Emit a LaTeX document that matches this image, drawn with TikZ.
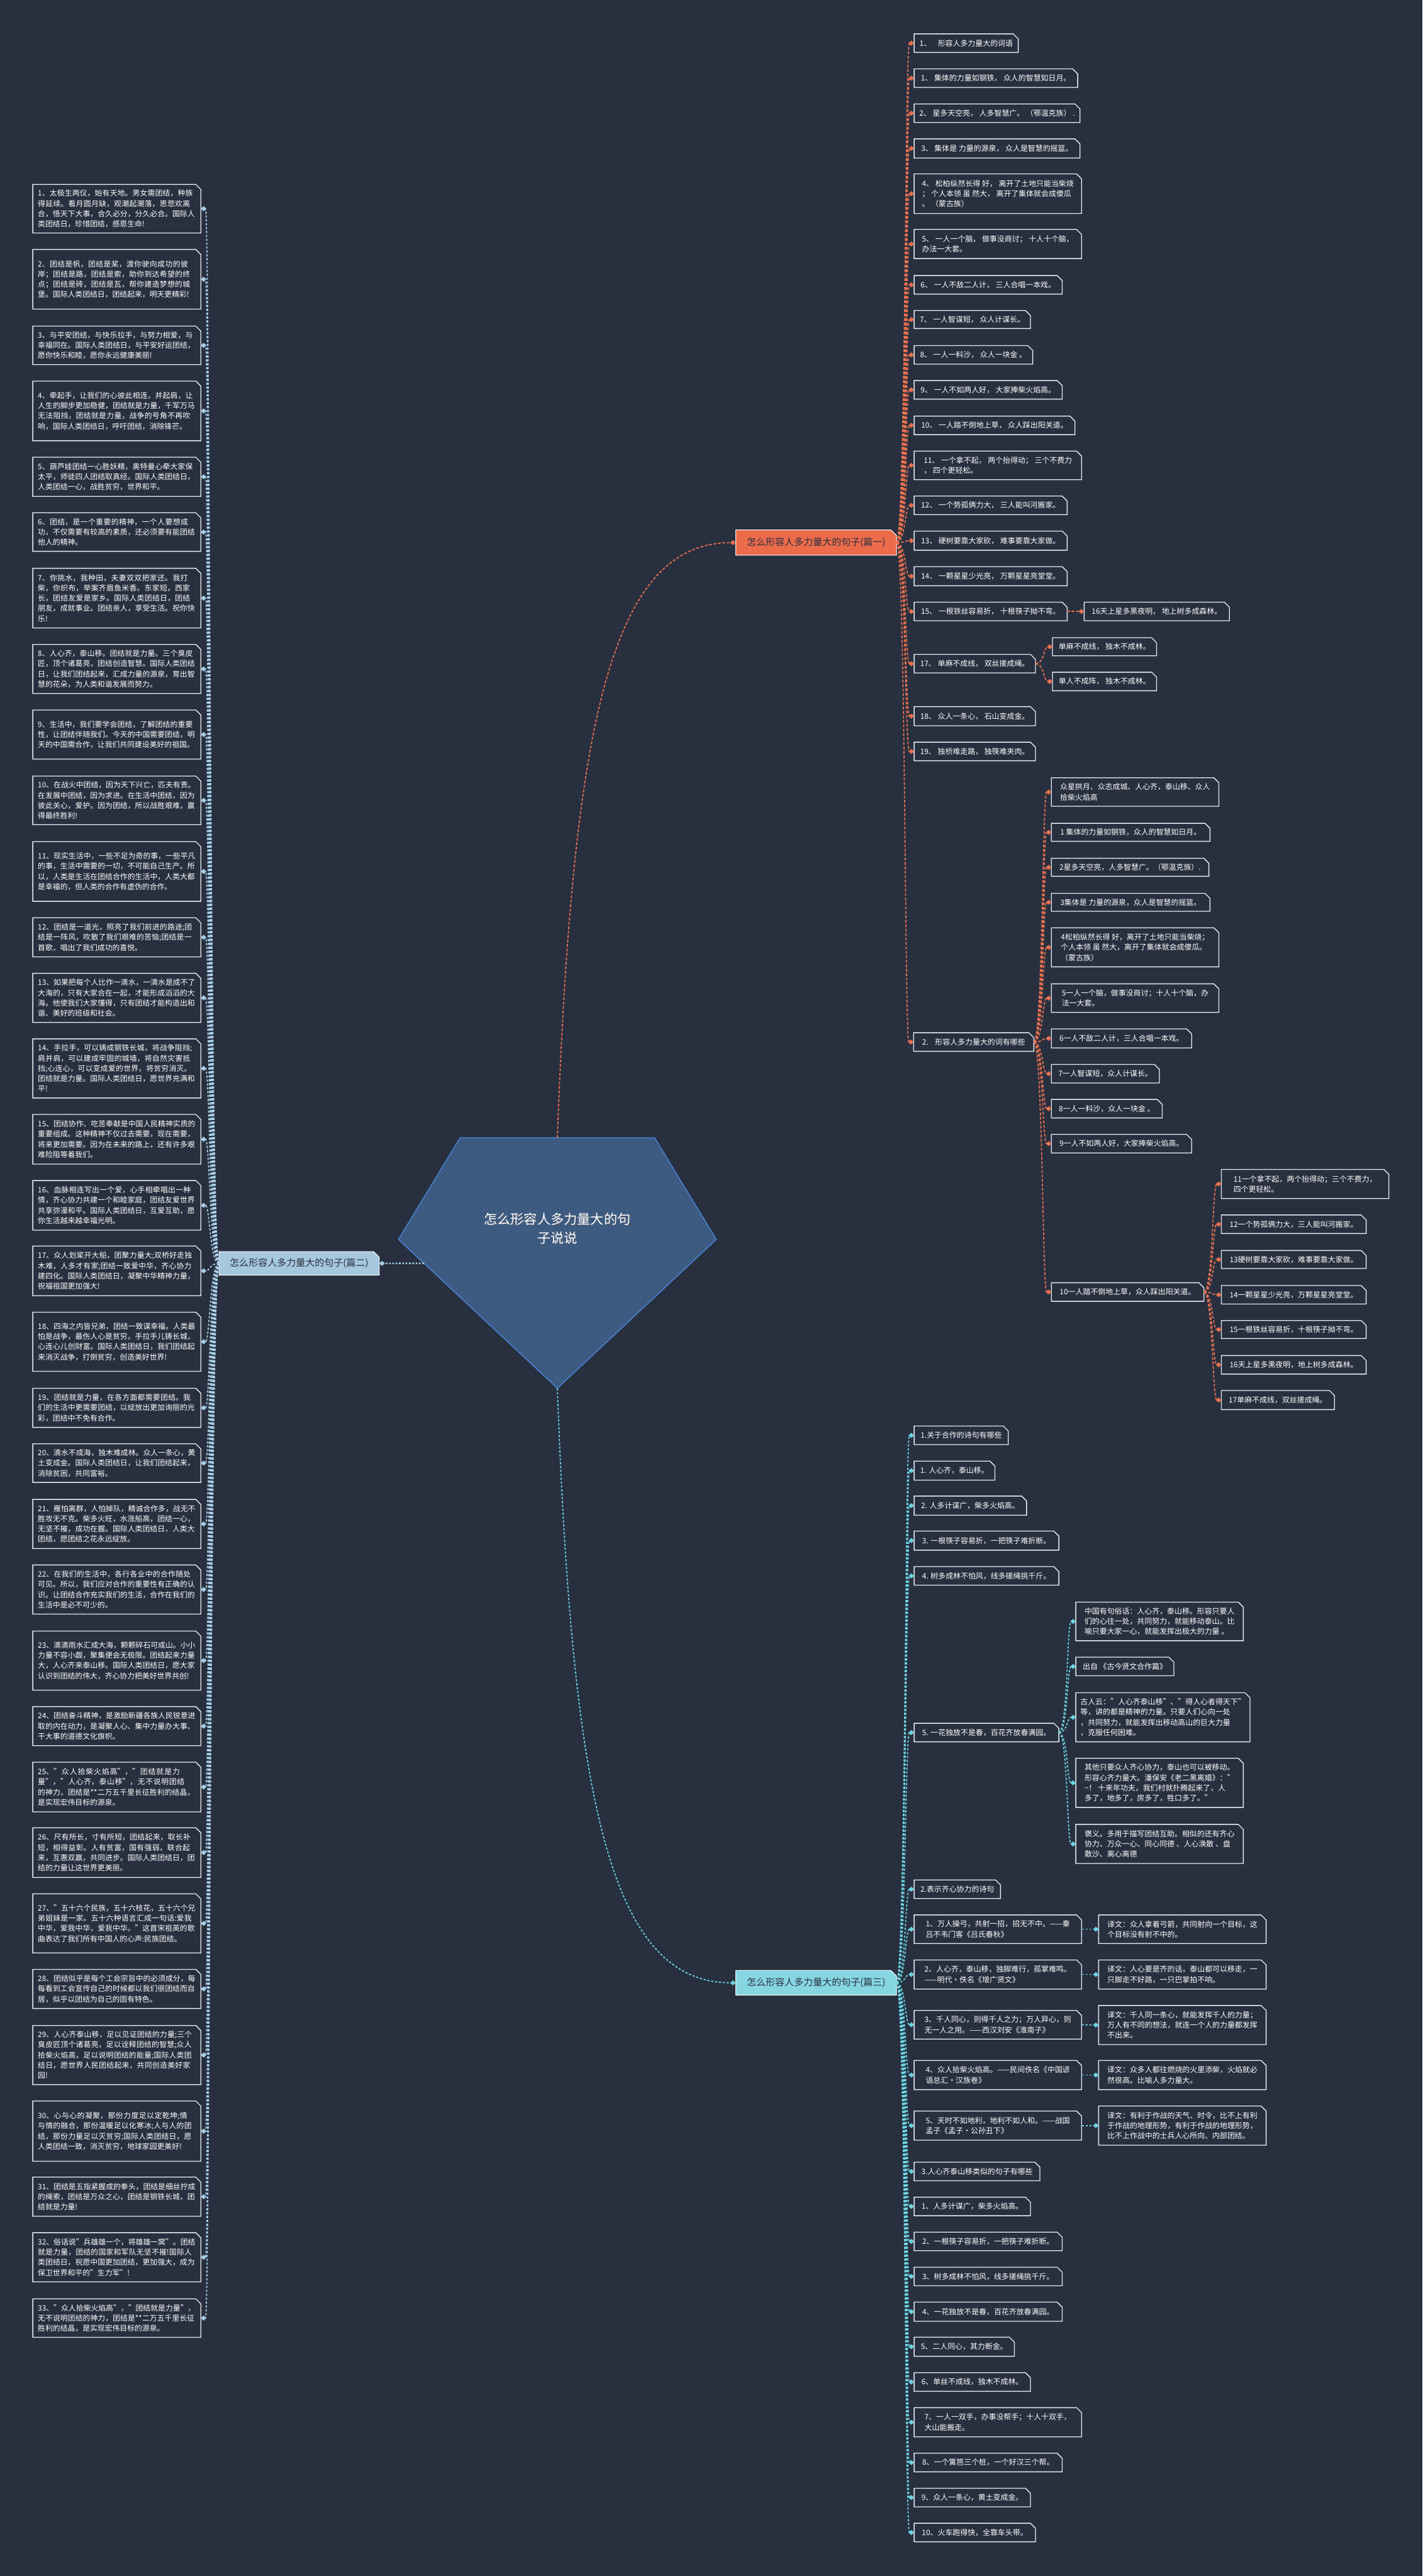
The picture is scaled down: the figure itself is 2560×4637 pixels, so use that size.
\documentclass[tikz,border=0pt]{standalone}
\usepackage{fontspec}
\setmainfont{Noto Sans CJK SC}
\XeTeXlinebreaklocale "zh"
\XeTeXlinebreakskip = 0pt plus 1pt
\usetikzlibrary{arrows.meta}
\pgfdeclarelayer{back}
\pgfdeclarelayer{mid}
\pgfsetlayers{back,mid,main}
\definecolor{bgc}{HTML}{28303F}
\definecolor{penf}{HTML}{3D5A80}
\definecolor{pend}{HTML}{4A88E0}
\definecolor{orc}{HTML}{E8704F}
\definecolor{orf}{HTML}{EC6B4B}
\definecolor{blc}{HTML}{A8CDE6}
\definecolor{blf}{HTML}{A6C8DE}
\definecolor{cyc}{HTML}{6DD4E2}
\definecolor{cyf}{HTML}{86D6E2}
\definecolor{boxl}{HTML}{E6ECF2}
\definecolor{darkt}{HTML}{2A3140}
\tikzset{
  leaf/.style={anchor=north west, inner xsep=8pt, inner ysep=0pt, text=white, align=left,
    font=\fontsize{13.5pt}{18.5pt}\selectfont},
  leafL/.style={leaf, text width=284pt, font=\fontsize{13.4pt}{18.4pt}\selectfont},
  boxline/.style={draw=boxl, line width=1.5pt},
  branchlab/.style={anchor=north west, inner sep=0pt, text=darkt, align=center,
    font=\fontsize{17pt}{20pt}\selectfont},
  conO/.style={draw=orc, line width=2pt, dash pattern=on 5pt off 3pt, -{Diamond[length=10pt,width=9pt]}},
  conB/.style={draw=blc, line width=2pt, dash pattern=on 4pt off 3pt, -{Diamond[length=10pt,width=9pt]}},
  conC/.style={draw=cyc, line width=2pt, dash pattern=on 4pt off 3pt, -{Diamond[length=10pt,width=9pt]}},
}
\newcommand\notched[1]{%
  \draw[boxline] (#1.south west) -- (#1.north west) -- ([xshift=-9pt]#1.north east)
    -- ([yshift=-9pt]#1.north east) -- (#1.south east) -- cycle;}
% name, x, y, w, h, text
\newcommand\leafbox[6]{%
  \node[leaf, minimum width=#4pt, minimum height=#5pt] (#1) at (#2,#3) {#6};
  \notched{#1}}
\newcommand\lbox[4]{%
  \node[leafL, minimum width=302pt, minimum height=#3pt] (#1) at (59,#2) {#4};
  \notched{#1}}
\newcommand\labbox[7]{% name x y w h fill text
  \node[branchlab, minimum width=#4pt, minimum height=#5pt] (#1) at (#2,#3) {#7};
  \begin{pgfonlayer}{mid}
  \filldraw[fill=#6, draw=white, line width=1.2pt] (#1.south west) -- (#1.north west) -- ([xshift=-10pt]#1.north east)
    -- ([yshift=-10pt]#1.north east) -- (#1.south east) -- cycle;
  \end{pgfonlayer}}
\begin{document}
\begin{tikzpicture}[x=1pt,y=-1pt]
\useasboundingbox (0,0) rectangle (2560,4637);
\begin{pgfonlayer}{back}
\fill[bgc] (0,0) rectangle (2560,4637);
\end{pgfonlayer}

% ---------- centre ----------
\coordinate (ptop) at (1003,2048);
\coordinate (pbot) at (1003,2499);
\coordinate (pleft) at (763,2274);
\begin{pgfonlayer}{mid}
\filldraw[fill=penf, draw=pend, line width=1.5pt] (828,2048) -- (1178,2048) -- (1289,2231) -- (1003,2499) -- (717,2231) -- cycle;
\end{pgfonlayer}
\node[text=black!60, opacity=0.5, align=center, font=\fontsize{24pt}{34pt}\selectfont] at (1005,2213) {怎么形容人多力量大的句\\子说说};
\node[text=white, align=center, font=\fontsize{24pt}{34pt}\selectfont] (title) at (1003,2211) {怎么形容人多力量大的句\\子说说};

% ---------- branch labels ----------
\labbox{P1}{1324}{954}{289}{45}{orf}{怎么形容人多力量大的句子(篇一)}
\labbox{P2}{394}{2253}{288}{42}{blf}{怎么形容人多力量大的句子(篇二)}
\labbox{P3}{1324}{3547}{289}{44}{cyf}{怎么形容人多力量大的句子(篇三)}

\draw[conO] (ptop) .. controls (1030,1300) and (1100,977) .. (P1.west);
\draw[conB, dash pattern=on 3pt off 3pt, line width=3pt] (pleft) -- (P2.east);
\draw[conC] (pbot) .. controls (1030,3250) and (1100,3569) .. (P3.west);

% ---------- 篇一 ----------
\leafbox{I1}{1645}{61}{187}{33}{1、\hspace{12pt}形容人多力量大的词语}
\leafbox{I2}{1645}{124}{294}{33}{1、 集体的力量如钢铁， 众人的智慧如日月。}
\leafbox{I3}{1645}{187}{298}{33}{2、 星多天空亮， 人多智慧广。 （鄂温克族） .}
\leafbox{I4}{1645}{250}{298}{34}{3、 集体是 力量的源泉， 众人是智慧的摇篮。}
\leafbox{I5}{1645}{313}{301}{71}{4、 松柏纵然长得 好， 离开了土地只能当柴烧\\； 个人本领 虽 然大， 离开了集体就会成傻瓜\\。 （蒙古族）}
\leafbox{I6}{1645}{413}{301}{52}{5、 一人一个脑， 做事没商讨； 十人十个脑，\\办法一大套。}
\leafbox{I7}{1645}{496}{266}{33}{6、 一人不敌二人计， 三人合唱一本戏。}
\leafbox{I8}{1645}{559}{209}{32}{7、 一人智谋短， 众人计谋长。}
\leafbox{I9}{1645}{622}{213}{33}{8、 一人一料沙， 众人一块金 。}
\leafbox{I10}{1645}{685}{266}{33}{9、 一人不如两人好， 大家捧柴火焰高。}
\leafbox{I11}{1645}{749}{289}{33}{10、 一人踏不倒地上草， 众人踩出阳关道。}
\leafbox{I12}{1645}{812}{301}{51}{11、 一个拿不起， 两个抬得动； 三个不费力\\， 四个更轻松。}
\leafbox{I13}{1645}{893}{275}{33}{12、 一个势孤俩力大， 三人能叫河搬家。}
\leafbox{I14}{1645}{956}{275}{34}{13、 硬树要靠大家砍， 难事要靠大家做。}
\leafbox{I15}{1645}{1020}{275}{34}{14、 一颗星星少光亮， 万颗星星亮堂堂。}
\leafbox{I16}{1645}{1084}{275}{33}{15、 一根铁丝容易折， 十根筷子拗不弯。}
\leafbox{I16a}{1951}{1084}{261}{33}{16天上星多黑夜明， 地上树多成森林。}
\leafbox{I17}{1645}{1178}{218}{33}{17、 单麻不成线， 双丝搓成绳。}
\leafbox{I17a}{1894}{1148}{187}{32}{单麻不成线， 独木不成林。}
\leafbox{I17b}{1894}{1210}{187}{33}{单人不成阵， 独木不成林。}
\leafbox{I18}{1645}{1272}{218}{34}{18、 众人一条心， 石山变成金。}
\leafbox{I19}{1645}{1336}{218}{33}{19、 独桥难走路， 独筷难夹肉。}
\leafbox{I20}{1644}{1859}{216}{33}{2.\hspace{12pt}形容人多力量大的词有哪些}

\leafbox{C1}{1892}{1400}{301}{51}{众星拱月、众志成城、人心齐，泰山移、众人\\拾柴火焰高}
\leafbox{C2}{1892}{1482}{285}{32}{1 集体的力量如钢铁，众人的智慧如日月。}
\leafbox{C3}{1892}{1545}{283}{32}{2星多天空亮，人多智慧广。（鄂温克族）.}
\leafbox{C4}{1892}{1608}{285}{32}{3集体是 力量的源泉，众人是智慧的摇篮。}
\leafbox{C5}{1892}{1670}{301}{70}{4松柏纵然长得 好，离开了土地只能当柴烧；\\个人本领 虽 然大，离开了集体就会成傻瓜。\\（蒙古族）}
\leafbox{C6}{1892}{1771}{301}{51}{5一人一个脑，做事没商讨；十人十个脑，办\\法一大套。}
\leafbox{C7}{1892}{1852}{252}{34}{6一人不敌二人计，三人合唱一本戏。}
\leafbox{C8}{1892}{1916}{194}{33}{7一人智谋短，众人计谋长。}
\leafbox{C9}{1892}{1979}{199}{33}{8一人一料沙，众人一块金 。}
\leafbox{C10}{1892}{2042}{252}{33}{9一人不如两人好，大家捧柴火焰高。}
\leafbox{C11}{1892}{2309}{274}{33}{10一人踏不倒地上草，众人踩出阳关道。}
\leafbox{G1}{2198}{2105}{301}{52}{11一个拿不起，两个抬得动；三个不费力，\\四个更轻松。}
\leafbox{G2}{2198}{2187}{260}{33}{12一个势孤俩力大，三人能叫河搬家。}
\leafbox{G3}{2198}{2251}{260}{32}{13硬树要靠大家砍，难事要靠大家做。}
\leafbox{G4}{2198}{2314}{260}{33}{14一颗星星少光亮，万颗星星亮堂堂。}
\leafbox{G5}{2198}{2377}{260}{32}{15一根铁丝容易折，十根筷子拗不弯。}
\leafbox{G6}{2198}{2440}{260}{33}{16天上星多黑夜明，地上树多成森林。}
\leafbox{G7}{2198}{2503}{203}{34}{17单麻不成线，双丝搓成绳。}

\foreach \k in {1,...,20} \draw[conO] (P1.east) .. controls +(16,0) and +(-16,0) .. (I\k.west);
\draw[conO] (I16.east) -- (I16a.west);
\draw[conO] (I17.east) .. controls +(16,0) and +(-16,0) .. (I17a.west);
\draw[conO] (I17.east) .. controls +(16,0) and +(-16,0) .. (I17b.west);
\foreach \k in {1,...,11} \draw[conO] (I20.east) .. controls +(16,0) and +(-16,0) .. (C\k.west);
\foreach \k in {1,...,7} \draw[conO] (C11.east) .. controls +(16,0) and +(-16,0) .. (G\k.west);

% ---------- 篇三 ----------
\leafbox{T1}{1645}{2567}{169}{33}{1.关于合作的诗句有哪些}
\leafbox{T2}{1645}{2630}{145}{34}{1. 人心齐，泰山移。}
\leafbox{T3}{1645}{2693}{202}{34}{2. 人多计谋广，柴多火焰高。}
\leafbox{T4}{1645}{2756}{260}{34}{3. 一根筷子容易折，一把筷子难折断。}
\leafbox{T5}{1645}{2820}{260}{33}{4. 树多成林不怕风，线多搓绳挑千斤。}
\leafbox{T6}{1645}{3102}{260}{33}{5. 一花独放不是春，百花齐放春满园。}
\leafbox{U1}{1936}{2884}{301}{69}{中国有句俗话：人心齐，泰山移。形容只要人\\们的心往一处，共同努力，就能移动泰山。比\\喻只要大家一心，就能发挥出极大的力量 。}
\leafbox{U2}{1936}{2983}{176}{33}{出自 《古今贤文合作篇》}
\leafbox{U3}{1936}{3047}{301}{88}{古人云："人心齐泰山移"、"得人心者得天下"\\等，讲的都是精神的力量。只要人们心向一处\\，共同努力，就能发挥出移动高山的巨大力量\\，克服任何困难。}
\leafbox{U4}{1936}{3165}{301}{88}{其他只要众人齐心协力，泰山也可以被移动。\\形容心齐力量大。潘保安《老二黑离婚》："\\\textasciitilde！ 十来年功夫，我们村就扑腾起来了，人\\多了，地多了，房多了，牲口多了。"}
\leafbox{U5}{1936}{3284}{301}{70}{褒义。多用于描写团结互助。相似的还有齐心\\协力、万众一心、同心同德 、人心涣散 、盘\\散沙、离心离德}
\leafbox{T7}{1645}{3384}{155}{33}{2.表示齐心协力的诗句}
\leafbox{T8}{1645}{3447}{301}{51}{1、万人操弓，共射一招，招无不中。——秦\\吕不韦门客《吕氏春秋》}
\leafbox{T8a}{1977}{3447}{301}{51}{译文：众人拿着弓箭，共同射向一个目标，这\\个目标没有射不中的。}
\leafbox{T9}{1645}{3528}{301}{52}{2、人心齐，泰山移，独脚难行，孤掌难鸣。\\——明代·佚名《增广贤文》}
\leafbox{T9a}{1977}{3528}{301}{52}{译文：人心要是齐的话，泰山都可以移走，一\\只脚走不好路，一只巴掌拍不响。}
\leafbox{T10}{1645}{3619}{301}{51}{3、千人同心，则得千人之力；万人异心，则\\无一人之用。——西汉刘安《淮南子》}
\leafbox{T10a}{1977}{3610}{301}{70}{译文：千人同一条心，就能发挥千人的力量；\\万人有不同的想法，就连一个人的力量都发挥\\不出来。}
\leafbox{T11}{1645}{3709}{301}{52}{4、众人拾柴火焰高。——民间佚名《中国谚\\语总汇·汉族卷》}
\leafbox{T11a}{1977}{3709}{301}{52}{译文：众多人都往燃烧的火里添柴，火焰就必\\然很高。比喻人多力量大。}
\leafbox{T12}{1645}{3800}{301}{52}{5、天时不如地利，地利不如人和。——战国\\孟子《孟子·公孙丑下》}
\leafbox{T12a}{1977}{3791}{301}{70}{译文：有利于作战的天气、时令，比不上有利\\于作战的地理形势，有利于作战的地理形势，\\比不上作战中的士兵人心所向、内部团结。}
\leafbox{T13}{1645}{3892}{226}{33}{3.人心齐泰山移类似的句子有哪些}
\leafbox{T14}{1645}{3955}{209}{33}{1、人多计谋广，柴多火焰高。}
\leafbox{T15}{1645}{4018}{266}{33}{2、一根筷子容易折，一把筷子难折断。}
\leafbox{T16}{1645}{4081}{266}{33}{3、树多成林不怕风，线多搓绳挑千斤。}
\leafbox{T17}{1645}{4144}{266}{34}{4、一花独放不是春，百花齐放春满园。}
\leafbox{T18}{1645}{4207}{180}{34}{5、二人同心，其力断金。}
\leafbox{T19}{1645}{4271}{209}{33}{6、单丝不成线，独木不成林。}
\leafbox{T20}{1645}{4334}{301}{52}{7、一人一双手，办事没帮手；十人十双手，\\大山能搬走。}
\leafbox{T21}{1645}{4416}{266}{33}{8、一个篱笆三个桩，一个好汉三个帮。}
\leafbox{T22}{1645}{4479}{209}{33}{9、众人一条心，黄土变成金。}
\leafbox{T23}{1645}{4542}{218}{33}{10、火车跑得快，全靠车头带。}

\foreach \k in {1,...,23} \draw[conC] (P3.east) .. controls +(16,0) and +(-16,0) .. (T\k.west);
\foreach \k in {1,...,5} \draw[conC] (T6.east) .. controls +(16,0) and +(-16,0) .. (U\k.west);
\foreach \k in {8,...,12} \draw[conC] (T\k.east) -- (T\k a.west);

% ---------- 篇二 ----------
\lbox{L1}{332}{87}{1、太极生两仪，始有天地。男女需团结，种族得延续。看月圆月缺，观潮起潮落，思悲欢离合，悟天下大事，合久必分，分久必合。国际人类团结日，珍惜团结，感恩生命!}
\lbox{L2}{449}{107}{2、团结是帆，团结是桨，渡你驶向成功的彼岸；团结是路，团结是索，助你到达希望的终点；团结是砖，团结是瓦，帮你建造梦想的城堡。国际人类团结日，团结起来，明天更精彩!}
\lbox{L3}{587}{69}{3、与平安团结，与快乐拉手，与努力相爱，与幸福同在。国际人类团结日，与平安好运团结，愿你快乐和睦，愿你永远健康美丽!}
\lbox{L4}{686}{107}{4、牵起手，让我们的心彼此相连，并起肩，让人生的脚步更加稳健，团结就是力量，千军万马无法阻挡，团结就是力量，战争的号角不再吹响，国际人类团结日，呼吁团结，消除锋芒。}
\lbox{L5}{823}{70}{5、葫芦娃团结一心胜妖精，奥特曼心牵大家保太平，师徒四人团结取真经。国际人类团结日，人类团结一心，战胜贫穷，世界和平。}
\lbox{L6}{923}{69}{6、团结，是一个重要的精神，一个人要想成功，不仅需要有较高的素质，还必须要有能团结他人的精神。}
\lbox{L7}{1023}{107}{7、你挑水，我种田，夫妻双双把家还。我打柴，你织布，举案齐眉鱼米香。东家短，西家长，团结友爱是家乡。国际人类团结日，团结朋友，成就事业。团结亲人，享受生活。祝你快乐!}
\lbox{L8}{1160}{88}{8、人心齐，泰山移。团结就是力量。三个臭皮匠，顶个诸葛亮，团结创造智慧。国际人类团结日，让我们团结起来，汇成力量的源泉，育出智慧的花朵，为人类和谐发展而努力。}
\lbox{L9}{1278}{88}{9、生活中，我们要学会团结，了解团结的重要性，让团结伴随我们。今天的中国需要团结，明天的中国需合作，让我们共同建设美好的祖国。}
\lbox{L10}{1397}{87}{10、在战火中团结，因为天下兴亡，匹夫有责。在发展中团结，因为求进。在生活中团结，因为彼此关心，爱护。因为团结，所以战胜艰难，赢得最终胜利!}
\lbox{L11}{1515}{107}{11、现实生活中，一些不足为奇的事，一些平凡的事，生活中需要的一切，不可能自己生产。所以，人类是生活在团结合作的生活中，人类大都是幸福的，但人类的合作有虚伪的合作。}
\lbox{L12}{1652}{70}{12、团结是一道光，照亮了我们前进的路途;团结是一阵风，吹散了我们艰难的苦恼;团结是一首歌，唱出了我们成功的喜悦。}
\lbox{L13}{1752}{88}{13、如果把每个人比作一滴水，一滴水是成不了大海的，只有大家合在一起，才能形成滔滔的大海。他使我们大家懂得，只有团结才能构造出和谐、美好的班级和社会。}
\lbox{L14}{1870}{106}{14、手拉手，可以铸成钢铁长城，将战争阻挡;肩并肩，可以建成牢固的城墙，将自然灾害抵挡;心连心，可以变成爱的世界，将贫穷消灭。团结就是力量。国际人类团结日，愿世界充满和平!}
\lbox{L15}{2006}{89}{15、团结协作、吃苦奉献是中国人民精神实质的重要组成。这种精神不仅过去需要，现在需要，将来更加需要。因为在未来的路上，还有许多艰难险阻等着我们。}
\lbox{L16}{2125}{89}{16、血脉相连写出一个爱，心手相牵唱出一种情，齐心协力共建一个和睦家庭，团结友爱世界共享弥漫和平。国际人类团结日，互爱互助，愿你生活越来越幸福光明。}
\lbox{L17}{2243}{89}{17、众人划桨开大船，团聚力量大;双桥好走独木难，人多才有家;团结一致爱中华，齐心协力建四化。国际人类团结日，凝聚中华精神力量，祝福祖国更加强大!}
\lbox{L18}{2362}{106}{18、四海之内皆兄弟，团结一致谋幸福。人类最怕是战争，最伤人心是贫穷。手拉手儿铸长城，心连心儿创财富。国际人类团结日，我们团结起来消灭战争，打倒贫穷，创造美好世界!}
\lbox{L19}{2499}{70}{19、团结就是力量，在各方面都需要团结。我们的生活中更需要团结，以绽放出更加询丽的光彩，团结中不免有合作。}
\lbox{L20}{2599}{69}{20、滴水不成海，独木难成林。众人一条心，黄土变成金。国际人类团结日，让我们团结起来，消除贫困，共同富裕。}
\lbox{L21}{2699}{88}{21、雁怕离群，人怕掉队，精诚合作多，战无不胜攻无不克。柴多火旺，水涨船高，团结一心，无坚不摧，成功在握。国际人类团结日，人类大团结，愿团结之花永远绽放。}
\lbox{L22}{2817}{88}{22、在我们的生活中，各行各业中的合作随处可见。所以，我们应对合作的重要性有正确的认识。让团结合作充实我们的生活，合作在我们的生活中是必不可少的。}
\lbox{L23}{2936}{106}{23、滴滴雨水汇成大海，颗颗碎石可成山。小小力量不容小觑，聚集便会无极限。团结起来力量大，人心齐来泰山移。国际人类团结日，愿大家认识到团结的伟大，齐心协力把美好世界共创!}
\lbox{L24}{3072}{70}{24、团结奋斗精神，是激励新疆各族人民锐意进取的内在动力，是凝聚人心、集中力量办大事、干大事的道德文化旗帜。}
\lbox{L25}{3172}{89}{25、"众人拾柴火焰高"，"团结就是力量"，"人心齐，泰山移"，无不说明团结的神力，团结是**二万五千里长征胜利的结晶，是实现宏伟目标的源泉。}
\lbox{L26}{3290}{89}{26、尺有所长，寸有所短，团结起来，取长补短，相得益彰。人有贫富，国有强弱，联合起来，互惠双赢，共同进步。国际人类团结日，团结的力量让这世界更美丽。}
\lbox{L27}{3409}{106}{27、"五十六个民族，五十六枝花，五十六个兄弟姐妹是一家。五十六种语言汇成一句话:爱我中华，爱我中华，爱我中华。"这首宋祖英的歌曲表达了我们所有中国人的心声:民族团结。}
\lbox{L28}{3545}{70}{28、团结似乎是每个工会宗旨中的必须成分，每每看到工会宣传自己的时候都以我们很团结而自居，似乎以团结为自己的固有特色。}
\lbox{L29}{3646}{106}{29、人心齐泰山移，足以见证团结的力量;三个臭皮匠顶个诸葛亮，足以诠释团结的智慧;众人拾柴火焰高，足以说明团结的能量;国际人类团结日，愿世界人民团结起来，共同创造美好家园!}
\lbox{L30}{3782}{108}{30、心与心的凝聚，那份力度足以定乾坤;情与情的融合，那份温暖足以化寒冰;人与人的团结，那份力量足以灭贫穷;国际人类团结日，愿人类团结一致，消灭贫穷，地球家园更美好!}
\lbox{L31}{3919}{70}{31、团结是五指紧握成的拳头，团结是细丝拧成的绳索，团结是万众之心，团结是钢铁长城，团结就是力量!}
\lbox{L32}{4019}{88}{32、俗话说"兵雄雄一个，将雄雄一窝"。团结就是力量，团结的国家和军队无坚不摧!国际人类团结日，祝愿中国更加团结，更加强大，成为保卫世界和平的"生力军"!}
\lbox{L33}{4138}{69}{33、"众人拾柴火焰高"，"团结就是力量"，无不说明团结的神力，团结是**二万五千里长征胜利的结晶，是实现宏伟目标的源泉。}

\foreach \k in {1,...,33} \draw[conB] (P2.west) .. controls +(-16,0) and +(16,0) .. (L\k.east);
\end{tikzpicture}
\end{document}
